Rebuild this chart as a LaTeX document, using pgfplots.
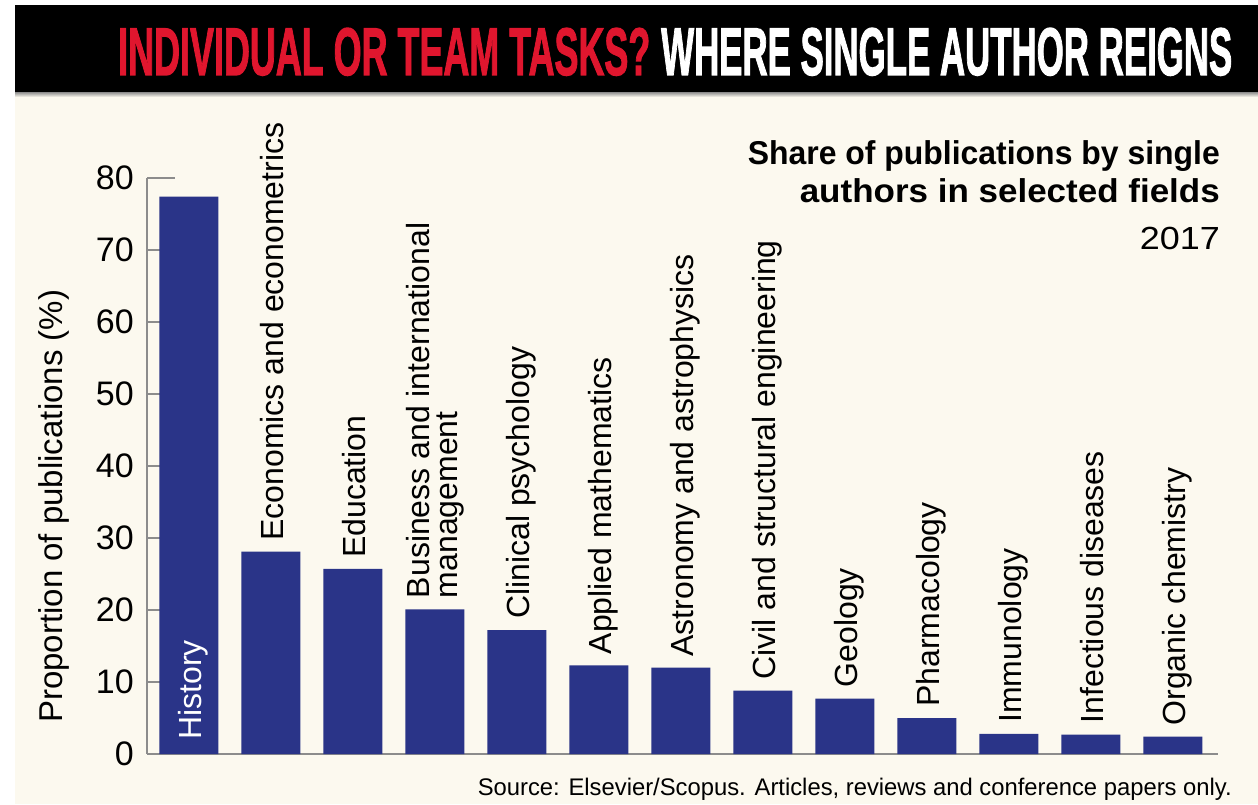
\documentclass[border=0pt]{standalone}
\usepackage{pgfplots}
\pgfplotsset{compat=1.18}
\usepackage{fontspec}
\setmainfont{Liberation Sans}
\newfontfamily\headfont{Liberation Sans Bold}[FakeBold=2]
\newfontfamily\subfont{Liberation Sans Bold}

\definecolor{bgcream}{HTML}{FCF9EF}
\definecolor{barblue}{HTML}{2A3488}
\definecolor{axisgray}{HTML}{8C8C8C}
\definecolor{headred}{HTML}{E0162E}

\newcommand{\labfont}{\fontsize{32pt}{28pt}\selectfont}

\begin{document}
\begin{tikzpicture}[x=1pt,y=1pt]
% page, header band (image y measured from top: tikz y = 804 - y)
\fill[white] (0,0) rectangle (1258,804);
\fill[bgcream] (15,0) rectangle (1258,712);
\shade[top color=black!45, bottom color=bgcream] (15,712) rectangle (1258,707);
\fill[black] (15,712) rectangle (1258,799);
\node[anchor=base west, inner sep=0pt] at (118,729)
  {\resizebox{532pt}{47pt}{\headfont\textcolor{headred}{INDIVIDUAL OR TEAM TASKS?}}};
\node[anchor=base west, inner sep=0pt] at (661,729)
  {\resizebox{571pt}{47pt}{\headfont\textcolor{white}{WHERE SINGLE AUTHOR REIGNS}}};

% subtitle
\node[anchor=base east, inner sep=0pt] at (1220,639)
  {\resizebox{472pt}{\height}{\fontsize{33pt}{33pt}\subfont Share of publications by single}};
\node[anchor=base east, inner sep=0pt] at (1220,601)
  {\resizebox{420pt}{\height}{\fontsize{33pt}{33pt}\subfont authors in selected fields}};
\node[anchor=base east, inner sep=0pt] at (1220,554)
  {\resizebox{80pt}{\height}{\fontsize{32pt}{32pt}\selectfont 2017}};

% source
\node[anchor=base east, inner sep=0pt] at (1232,9)
  {\resizebox{754pt}{\height}{\fontsize{24pt}{24pt}\selectfont Source: Elsevier/Scopus. Articles, reviews and conference papers only.}};

\begin{axis}[
  at={(147pt,50pt)}, anchor=south west,
  scale only axis, width=1071pt, height=576pt,
  xmin=-0.51, xmax=12.55, ymin=0, ymax=80,
  axis x line*=bottom, axis y line*=left,
  axis line style={draw=axisgray, line width=1.5pt, -},
  xtick=\empty, ytick={0,10,...,80},
  tick align=inside, major tick length=28pt,
  major tick style={draw=axisgray, line width=1.5pt},
  yticklabel style={font=\fontsize{34pt}{34pt}\selectfont,
    /pgf/number format/assume math mode=true, inner sep=0pt, xshift=-13pt},
  ylabel={Proportion of publications (\%)},
  every axis y label/.style={at={(axis description cs:-0.079,0.43)},
    rotate=90, anchor=base, inner sep=0pt, font=\fontsize{33pt}{33pt}\selectfont},
  ybar, bar width=59pt, bar shift=0pt,
  clip=false,
  every node near coord/.style={xshift=13pt, yshift=11pt, rotate=90,
    anchor=base west, inner sep=0pt, font=\labfont, text=black},
]
% bars
\addplot[fill=barblue, draw=none] coordinates {
  (0,77.4) (1,28.1) (2,25.7) (3,20.1) (4,17.2) (5,12.3) (6,12.0)
  (7,8.8) (8,7.7) (9,5.0) (10,2.8) (11,2.7) (12,2.4)
};
% category labels above bars
\addplot[draw=none, fill=none, nodes near coords, point meta=explicit symbolic]
  coordinates {
  (1,28.1) [Economics and econometrics]
  (2,25.7) [Education]
  (4,17.2) [Clinical psychology]
  (5,12.3) [Applied mathematics]
  (6,12.0) [Astronomy and astrophysics]
  (7,8.8) [Civil and structural engineering]
  (8,7.7) [Geology]
  (9,5.0) [Pharmacology]
  (10,2.8) [Immunology]
  (11,2.7) [Infectious diseases]
  (12,2.4) [Organic chemistry]
};
\addplot[draw=none, fill=none, nodes near coords, point meta=explicit symbolic,
  every node near coord/.style={xshift=29.5pt, yshift=11pt, rotate=90,
    anchor=south west, inner sep=0pt, align=left, font=\labfont, text=black}]
  coordinates {(3,20.1) [Business and international\\management]};
% label inside the History bar
\node[xshift=13pt, yshift=14pt, rotate=90, anchor=base west, inner sep=0pt,
  font=\labfont, text=white] at (axis cs:0,0) {History};
\end{axis}
\end{tikzpicture}
\end{document}
